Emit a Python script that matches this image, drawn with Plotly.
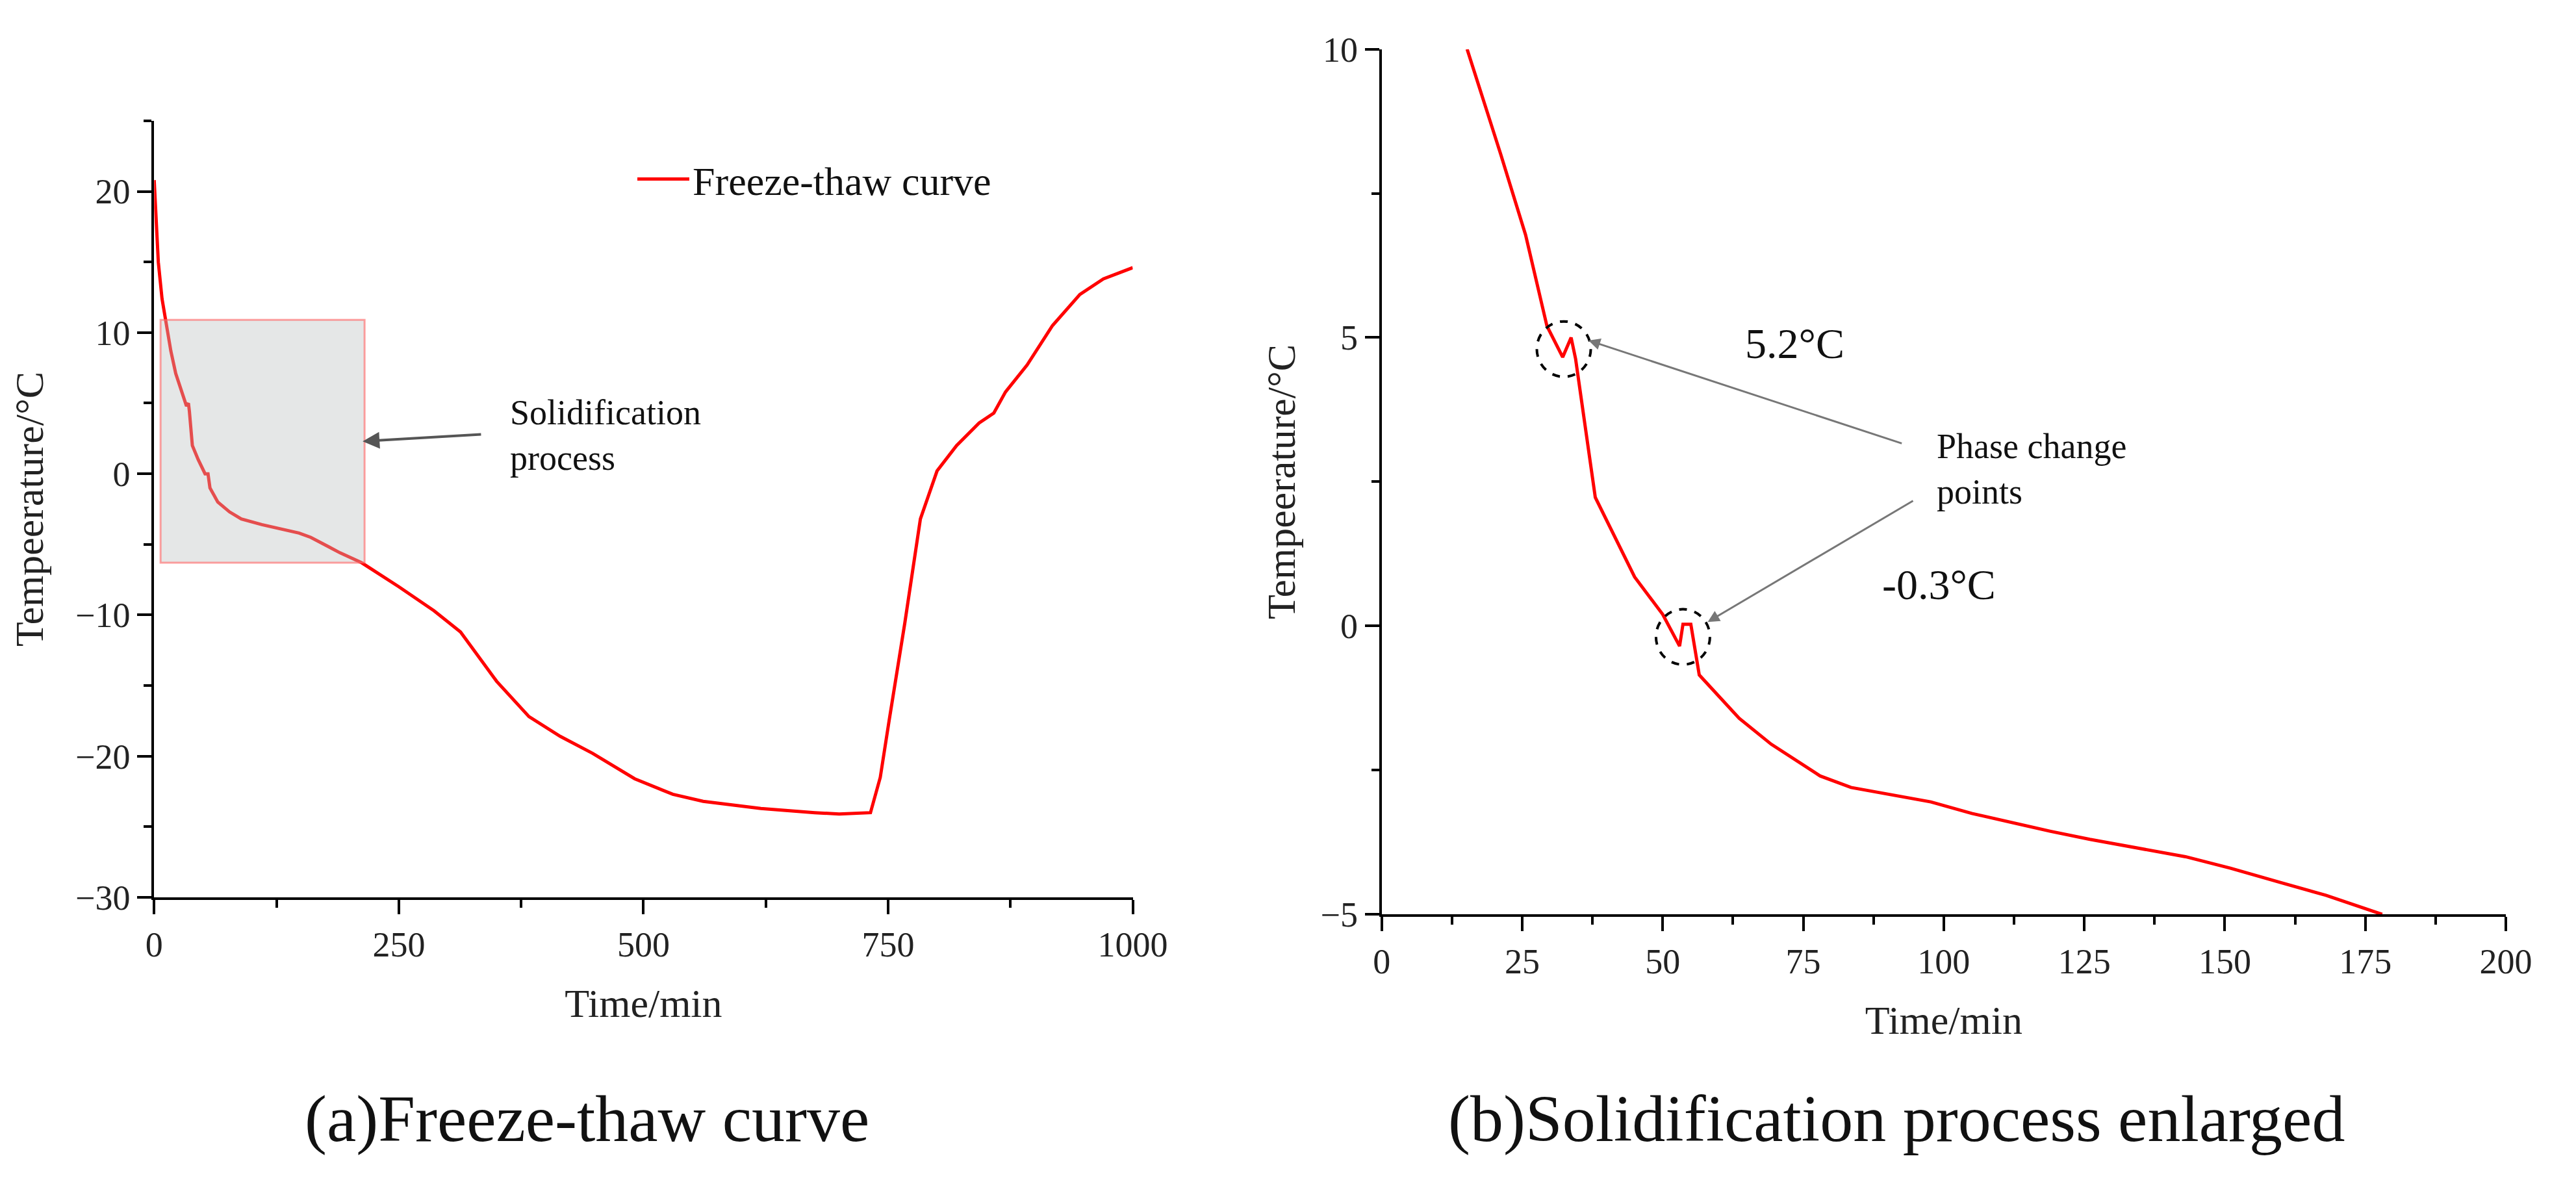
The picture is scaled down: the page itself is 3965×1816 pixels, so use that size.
import plotly.graph_objects as go

# (a) Freeze-thaw curve
time_a = [0, 2, 4.2, 8, 12.6, 17, 22, 28, 33, 35, 36, 39, 45, 52, 55, 57, 65, 77, 89, 110, 130, 148, 160, 173, 190, 212,
          250, 286, 313, 350, 383, 415, 448, 491, 530, 561, 620, 675, 700, 732, 742, 751, 767, 783, 800, 820, 843, 858,
          870, 892, 918, 946, 970, 1000]
temp_a = [20.8, 18.0, 15.0, 12.4, 10.4, 8.7, 7.1, 5.8, 4.8, 5.0, 4.4, 2.0, 1.0, 0.0, 0.0, -1.0, -2.0, -2.7, -3.2, -3.6,
          -3.9, -4.2, -4.5, -5.0, -5.6, -6.3, -8.0, -9.7, -11.2, -14.7, -17.2, -18.6, -19.8, -21.6, -22.7, -23.2,
          -23.7, -24.0, -24.1, -24.0, -21.5, -17.5, -10.6, -3.2, 0.2, 2.0, 3.6, 4.3, 5.8, 7.7, 10.5, 12.7, 13.8, 14.6]

# (b) Solidification process enlarged
time_b = [15.2, 21.2, 25.6, 29.4, 32.2, 33.7, 34.5, 38, 45, 50, 53, 53.6, 55, 56.5, 63.6, 69.3, 78, 83.5, 97.7, 105,
          119, 126, 143, 151, 160, 168, 178]
temp_b = [10.0, 8.17, 6.78, 5.2, 4.66, 5.0, 4.63, 2.23, 0.85, 0.2, -0.35, 0.03, 0.03, -0.85, -1.6, -2.05, -2.6, -2.8,
          -3.05, -3.25, -3.56, -3.7, -4.0, -4.2, -4.45, -4.67, -5.0]

FONT = "Liberation Serif"
W, H = 3965, 1816
fig = go.Figure()
fig.add_trace(go.Scatter(x=time_a, y=temp_a, mode="lines", line=dict(color="#ff0000", width=5),
                         name="Freeze-thaw curve", xaxis="x", yaxis="y"))
fig.add_trace(go.Scatter(x=time_b, y=temp_b, mode="lines", line=dict(color="#ff0000", width=5),
                         showlegend=False, xaxis="x2", yaxis="y2"))

mn = lambda d: dict(dtick=d, ticklen=12, tickwidth=4, ticks="outside", tickcolor="black")
ax = dict(showline=True, linecolor="black", linewidth=4, ticks="outside", ticklen=22, tickwidth=4,
          tickcolor="black", showgrid=False, zeroline=False, mirror=False,
          tickfont=dict(family=FONT, size=54, color="#222"),
          title_font=dict(family=FONT, size=62, color="#222"))
fig.update_layout(
    width=W, height=H, margin=dict(l=0, r=0, t=0, b=0), plot_bgcolor="white", paper_bgcolor="white",
    font=dict(family=FONT),
    xaxis=dict(ax, domain=[0.0555, 0.4419], range=[0, 1000], tickvals=[0, 250, 500, 750, 1000],
               minor=mn(125), title=dict(text="Time/min", standoff=40), anchor="y"),
    yaxis=dict(ax, domain=[0.2346, 0.9152], range=[-30, 25], tickvals=[-30, -20, -10, 0, 10, 20],
               ticktext=["\u221230", "\u221220", "\u221210", "0", "10", "20"],
               minor=mn(5), title=dict(text="Tempeerature/\u00b0C", standoff=30), anchor="x"),
    xaxis2=dict(ax, domain=[0.5402, 0.9841], range=[0, 200], dtick=25,
                minor=mn(12.5), title=dict(text="Time/min", standoff=40), anchor="y2"),
    yaxis2=dict(ax, domain=[0.2197, 0.978], range=[-5, 10], tickvals=[-5, 0, 5, 10],
                ticktext=["\u22125", "0", "5", "10"],
                minor=mn(2.5), title=dict(text="Tempeerature/\u00b0C", standoff=20), anchor="x2"),
    legend=dict(x=0.245, y=0.864, xanchor="left", yanchor="middle", bgcolor="rgba(0,0,0,0)",
                font=dict(family=FONT, size=62, color="#111"), itemwidth=80),
)

# shaded solidification region
fig.add_shape(type="rect", xref="x", yref="y", x0=6.5, x1=215, y0=-6.3, y1=10.9,
              fillcolor="rgba(190,195,195,0.4)", line=dict(color="rgba(255,100,100,0.6)", width=3), layer="above")
fig.add_annotation(xref="x", yref="y", axref="x", ayref="y", x=213, y=2.3, ax=335, ay=2.8, text="",
                   showarrow=True, arrowhead=2, arrowsize=1.3, arrowwidth=4, arrowcolor="#555")
fig.add_annotation(xref="x", yref="y", x=362, y=2.7, text="Solidification<br>process", showarrow=False,
                   xanchor="left", align="left", font=dict(family=FONT, size=54, color="#111"))

# circles
for cx, cy in [(32.4, 4.8), (53.6, -0.19)]:
    fig.add_shape(type="circle", xref="x2", yref="y2", x0=cx - 4.8, x1=cx + 4.8, y0=cy - 0.48, y1=cy + 0.48,
                  line=dict(color="black", width=4, dash="dash"))
for (hx, hy, tx, ty) in [(36.8, 4.95, 92.7, 3.16), (58, 0.07, 94.7, 2.18)]:
    fig.add_annotation(xref="x2", yref="y2", axref="x2", ayref="y2", x=hx, y=hy, ax=tx, ay=ty, text="",
                       showarrow=True, arrowhead=2, arrowsize=1.2, arrowwidth=3, arrowcolor="#777")
fig.add_annotation(xref="x2", yref="y2", x=98.5, y=2.72, text="Phase change<br>points", showarrow=False,
                   xanchor="left", align="left", font=dict(family=FONT, size=54, color="#111"))
fig.add_annotation(xref="x2", yref="y2", x=73.5, y=4.9, text="5.2\u00b0C", showarrow=False,
                   font=dict(family=FONT, size=66, color="#111"))
fig.add_annotation(xref="x2", yref="y2", x=99.2, y=0.72, text="-0.3\u00b0C", showarrow=False,
                   font=dict(family=FONT, size=66, color="#111"))

# captions
fig.add_annotation(xref="paper", yref="paper", x=898 / W, y=1 - 1742 / H, xanchor="center", yanchor="middle",
                   text="(a)Freeze-thaw curve", showarrow=False, font=dict(family=FONT, size=102, color="#111"))
fig.add_annotation(xref="paper", yref="paper", x=2948 / W, y=1 - 1742 / H, xanchor="center", yanchor="middle",
                   text="(b)Solidification process enlarged", showarrow=False,
                   font=dict(family=FONT, size=102, color="#111"))

fig.write_html("out.html")
